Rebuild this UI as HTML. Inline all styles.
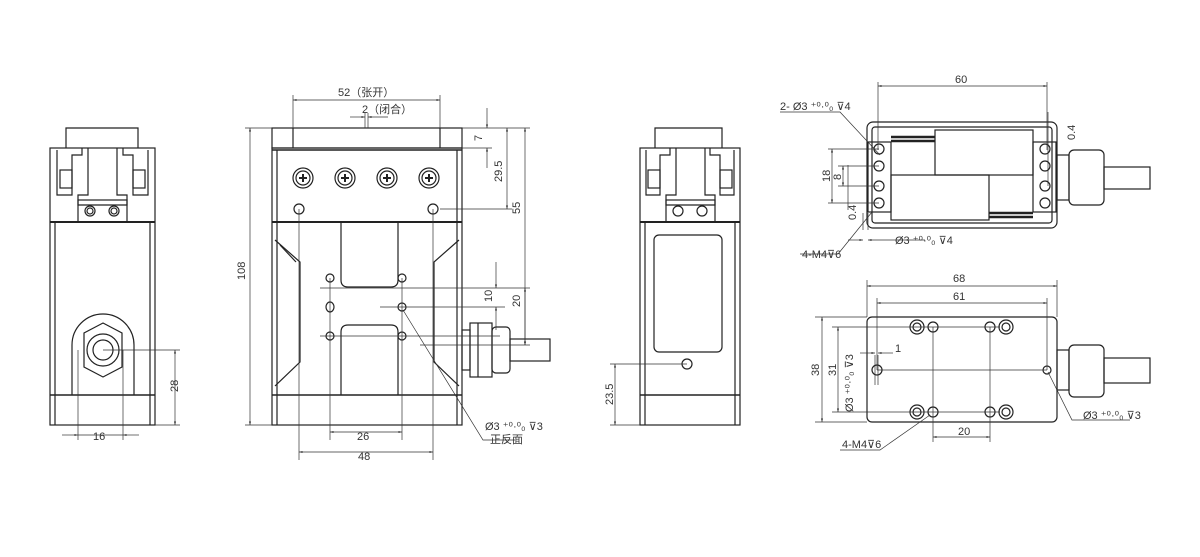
<!DOCTYPE html>
<html><head><meta charset="utf-8"><style>
html,body{margin:0;padding:0;background:#fff;}
svg{display:block;}
text{font-family:"Liberation Sans","Noto Sans CJK SC",sans-serif;font-size:11px;fill:#333;}
</style></head><body>
<svg width="1200" height="557" viewBox="0 0 1200 557" xmlns="http://www.w3.org/2000/svg">
<defs>
<marker id="a" viewBox="0 0 10 10" refX="10" refY="5" markerWidth="7" markerHeight="5" orient="auto-start-reverse"><path d="M0,2 L10,5 L0,8z" fill="#333"/></marker>
<g id="head">
<path d="M15,-23 V-10 H50 V-10 H85 V-23 Z" fill="none"/>
</g>
</defs>
<g stroke="#222" stroke-width="1.2" fill="none">
<!-- VIEW 1 -->
<rect x="50" y="148" width="105" height="277"/>
<line x1="50" y1="222" x2="155" y2="222" stroke-width="2"/>
<line x1="50" y1="395" x2="155" y2="395" stroke-width="1.6"/>
<line x1="55" y1="222" x2="55" y2="425"/><line x1="150" y1="222" x2="150" y2="425"/>
<path d="M66,148 V128 H138 V148"/>
<path d="M57,150 V195 H72 V155 H82 V148"/>
<path d="M148,150 V195 H133 V155 H123 V148"/>
<path d="M88,148 V195 H78 V205 H127 V195 H117 V148"/>
<rect x="60" y="170" width="12" height="18"/><rect x="133" y="170" width="12" height="18"/>
<rect x="78" y="200" width="49" height="22"/>
<circle cx="90" cy="211" r="5"/><circle cx="90" cy="211" r="3"/>
<circle cx="114" cy="211" r="5"/><circle cx="114" cy="211" r="3"/>
<path d="M72,395 V345 A31,31 0 0 1 134,345 V395"/>
<polygon points="103,323 122,333 122,367 103,377 84,367 84,333"/>
<circle cx="103" cy="350" r="16"/><circle cx="103" cy="350" r="10"/>
<!-- VIEW 2 -->
<rect x="272" y="148" width="190" height="277"/>
<rect x="272" y="128" width="190" height="20"/>
<line x1="293" y1="128" x2="293" y2="148"/><line x1="440" y1="128" x2="440" y2="148"/>
<line x1="272" y1="150" x2="462" y2="150" stroke-width="1.6"/>
<line x1="272" y1="222" x2="462" y2="222" stroke-width="2"/>
<line x1="272" y1="395" x2="462" y2="395" stroke-width="1.6"/>
<line x1="277" y1="150" x2="277" y2="425"/><line x1="457" y1="150" x2="457" y2="425"/>
<g>
<circle cx="303" cy="178" r="10"/><circle cx="303" cy="178" r="7"/>
<circle cx="345" cy="178" r="10"/><circle cx="345" cy="178" r="7"/>
<circle cx="387" cy="178" r="10"/><circle cx="387" cy="178" r="7"/>
<circle cx="429" cy="178" r="10"/><circle cx="429" cy="178" r="7"/>
</g>
<g stroke-width="2"><path d="M299,178h8M303,174v8M341,178h8M345,174v8M383,178h8M387,174v8M425,178h8M429,174v8"/></g>
<circle cx="299" cy="209" r="5"/><circle cx="433" cy="209" r="5"/>
<path d="M275,240 L300,262 V362 L275,386"/><path d="M459,240 L434,262 V362 L459,386"/>
<path d="M280,245 L296,262"/>
<path d="M341,222 V280 Q341,287 348,287 H391 Q398,287 398,280 V222"/>
<path d="M341,395 V332 Q341,325 348,325 H391 Q398,325 398,332 V395"/>
<circle cx="330" cy="278" r="4"/><circle cx="402" cy="278" r="4"/>
<ellipse cx="330" cy="307" rx="4" ry="5"/><circle cx="402" cy="307" r="4"/>
<circle cx="330" cy="336" r="4"/><circle cx="402" cy="336" r="4"/>
<rect x="462" y="330" width="8" height="40"/>
<rect x="470" y="323" width="22" height="54"/>
<line x1="478" y1="323" x2="478" y2="377"/>
<rect x="492" y="327" width="18" height="46" rx="4"/>
<rect x="510" y="339" width="40" height="22"/>
<!-- VIEW 3 -->
<rect x="640" y="148" width="100" height="277"/>
<line x1="640" y1="222" x2="740" y2="222" stroke-width="2"/>
<line x1="640" y1="395" x2="740" y2="395" stroke-width="1.6"/>
<line x1="645" y1="222" x2="645" y2="425"/><line x1="735" y1="222" x2="735" y2="425"/>
<path d="M655,148 V128 H722 V148"/>
<path d="M646,150 V195 H660 V155 H670 V148"/>
<path d="M734,150 V195 H720 V155 H710 V148"/>
<path d="M676,148 V195 H666 V205 H715 V195 H705 V148"/>
<rect x="648" y="170" width="12" height="18"/><rect x="720" y="170" width="12" height="18"/>
<rect x="666" y="200" width="49" height="22"/>
<circle cx="678" cy="211" r="5"/><circle cx="702" cy="211" r="5"/>
<rect x="654" y="235" width="68" height="117" rx="5"/>
<circle cx="687" cy="364" r="5"/>
<!-- VIEW 4 -->
<rect x="867" y="122" width="190" height="106" rx="6"/>
<rect x="872" y="127" width="180" height="96" rx="3"/>
<rect x="868" y="142" width="23" height="70"/><rect x="1033" y="142" width="23" height="70"/>
<rect x="935" y="130" width="98" height="45"/><rect x="891" y="175" width="98" height="45"/>
<path d="M891,137 H935 M891,141 H935 M989,213 H1033 M989,217 H1033" stroke-width="2.5"/>
<g><circle cx="879" cy="149" r="5"/><circle cx="879" cy="166" r="5"/><circle cx="879" cy="186" r="5"/><circle cx="879" cy="203" r="5"/>
<circle cx="1045" cy="149" r="5"/><circle cx="1045" cy="166" r="5"/><circle cx="1045" cy="186" r="5"/><circle cx="1045" cy="203" r="5"/></g>
<rect x="1057" y="155" width="12" height="45"/>
<rect x="1069" y="150" width="35" height="55" rx="5"/>
<rect x="1104" y="167" width="46" height="22"/>
<!-- VIEW 5 -->
<rect x="867" y="317" width="190" height="105" rx="5"/>
<circle cx="917" cy="327" r="7"/><circle cx="917" cy="327" r="4"/><circle cx="933" cy="327" r="5"/>
<circle cx="990" cy="327" r="5"/><circle cx="1006" cy="327" r="7"/><circle cx="1006" cy="327" r="4"/>
<circle cx="917" cy="412" r="7"/><circle cx="917" cy="412" r="4"/><circle cx="933" cy="412" r="5"/>
<circle cx="990" cy="412" r="5"/><circle cx="1006" cy="412" r="7"/><circle cx="1006" cy="412" r="4"/>
<circle cx="877" cy="370" r="5"/><circle cx="1047" cy="370" r="4"/>
<rect x="1057" y="350" width="12" height="40"/>
<rect x="1069" y="345" width="35" height="52" rx="5"/>
<rect x="1104" y="358" width="46" height="25"/>
</g>
<!-- dimensions -->
<g stroke="#333" stroke-width="0.7" fill="none">
<!-- view1 -->
<path d="M103,350 H180 M155,425 H180"/><line x1="175" y1="350" x2="175" y2="425" marker-start="url(#a)" marker-end="url(#a)"/>
<path d="M78,350 V440 M123,350 V440"/><line x1="62" y1="435" x2="78" y2="435" marker-end="url(#a)"/><line x1="139" y1="435" x2="123" y2="435" marker-end="url(#a)"/><line x1="78" y1="435" x2="123" y2="435"/>
<!-- view2 -->
<path d="M245,128 H272 M245,425 H272"/><line x1="250" y1="128" x2="250" y2="425" marker-start="url(#a)" marker-end="url(#a)"/>
<path d="M293,95 V128 M440,95 V128"/><line x1="293" y1="100" x2="440" y2="100" marker-start="url(#a)" marker-end="url(#a)"/>
<path d="M365,113 V128 M368,113 V128"/><line x1="350" y1="117" x2="365" y2="117" marker-end="url(#a)"/><line x1="388" y1="117" x2="368" y2="117" marker-end="url(#a)"/>
<path d="M462,128 H530 M462,148 H492 M440,209 H512 M420,345 H530"/>
<line x1="487" y1="108" x2="487" y2="128" marker-end="url(#a)"/><line x1="487" y1="168" x2="487" y2="148" marker-end="url(#a)"/>
<line x1="507" y1="128" x2="507" y2="209" marker-start="url(#a)" marker-end="url(#a)"/>
<line x1="525" y1="128" x2="525" y2="345" marker-start="url(#a)" marker-end="url(#a)"/>
<path d="M320,288 H530 M380,307 H505 M320,336 H500"/>
<line x1="525" y1="288" x2="525" y2="345" marker-start="url(#a)" marker-end="url(#a)"/>
<line x1="496" y1="262" x2="496" y2="288" marker-end="url(#a)"/><line x1="496" y1="330" x2="496" y2="307" marker-end="url(#a)"/>
<path d="M330,278 V440 M402,278 V440 M299,209 V460 M433,209 V460"/>
<line x1="330" y1="432" x2="402" y2="432" marker-start="url(#a)" marker-end="url(#a)"/>
<line x1="299" y1="452" x2="433" y2="452" marker-start="url(#a)" marker-end="url(#a)"/>
<path d="M403,310 L483,440 H515"/>
<!-- view3 -->
<path d="M610,364 H687 M610,425 H640"/><line x1="615" y1="364" x2="615" y2="425" marker-start="url(#a)" marker-end="url(#a)"/>
<!-- view4 -->
<path d="M878,82 V150 M1047,82 V150"/><line x1="878" y1="86" x2="1047" y2="86" marker-start="url(#a)" marker-end="url(#a)"/>
<path d="M780,112 H840 L880,155"/>
<path d="M828,149 H879 M838,166 H879 M838,186 H879 M828,203 H879"/>
<line x1="832" y1="149" x2="832" y2="203" marker-start="url(#a)" marker-end="url(#a)"/>
<line x1="843" y1="166" x2="843" y2="186" marker-start="url(#a)" marker-end="url(#a)"/>
<path d="M848,165 V210 M863,213 V230 M868,213 V230"/>
<line x1="848" y1="240" x2="863" y2="240" marker-end="url(#a)"/><line x1="885" y1="240" x2="868" y2="240" marker-end="url(#a)"/><line x1="885" y1="240" x2="925" y2="240"/>
<path d="M800,254 H838 L872,212"/>
<path d="M1048,120 V178"/><line x1="1048" y1="112" x2="1048" y2="120" /><line x1="1048" y1="186" x2="1048" y2="178"/>
<!-- view5 -->
<path d="M867,280 V317 M1057,280 V317 M877,298 V370 M1047,298 V370"/>
<line x1="867" y1="286" x2="1057" y2="286" marker-start="url(#a)" marker-end="url(#a)"/>
<line x1="877" y1="303" x2="1047" y2="303" marker-start="url(#a)" marker-end="url(#a)"/>
<path d="M815,317 H867 M815,422 H867 M832,327 H1000 M832,412 H1000"/>
<line x1="822" y1="317" x2="822" y2="422" marker-start="url(#a)" marker-end="url(#a)"/>
<line x1="838" y1="327" x2="838" y2="412" marker-start="url(#a)" marker-end="url(#a)"/>
<path d="M933,327 V442 M990,327 V442 M877,370 H1047"/>
<line x1="933" y1="437" x2="990" y2="437" marker-start="url(#a)" marker-end="url(#a)"/>
<path d="M875,355 V385 M878,355 V385"/><line x1="860" y1="353" x2="875" y2="353" marker-end="url(#a)"/><line x1="893" y1="353" x2="878" y2="353" marker-end="url(#a)"/>
<path d="M1048,372 L1072,420 H1130"/>
<path d="M840,450 H880 L930,415"/>
</g>
<!-- labels -->
<text x="338" y="96">52（张开）</text>
<text x="362" y="113">2（闭合）</text>
<text transform="translate(482,141) rotate(-90)">7</text>
<text transform="translate(502,182) rotate(-90)">29.5</text>
<text transform="translate(520,214) rotate(-90)">55</text>
<text transform="translate(245,280) rotate(-90)">108</text>
<text transform="translate(492,302) rotate(-90)">10</text>
<text transform="translate(520,307) rotate(-90)">20</text>
<text x="357" y="440">26</text>
<text x="358" y="460">48</text>
<text x="485" y="430">Ø3 ⁺⁰·⁰₀ ⊽3</text>
<text x="490" y="443">正反面</text>
<text x="93" y="440">16</text>
<text transform="translate(178,392) rotate(-90)">28</text>
<text transform="translate(613,405) rotate(-90)">23.5</text>
<text x="955" y="83">60</text>
<text x="780" y="110">2- Ø3 ⁺⁰·⁰₀ ⊽4</text>
<text transform="translate(830,182) rotate(-90)">18</text>
<text transform="translate(841,180) rotate(-90)">8</text>
<text transform="translate(856,220) rotate(-90)">0.4</text>
<text transform="translate(1075,140) rotate(-90)">0.4</text>
<text x="895" y="244">Ø3 ⁺⁰·⁰₀ ⊽4</text>
<text x="802" y="258">4-M4⊽6</text>
<text x="953" y="282">68</text>
<text x="953" y="300">61</text>
<text x="895" y="352">1</text>
<text transform="translate(819,376) rotate(-90)">38</text>
<text transform="translate(836,376) rotate(-90)">31</text>
<text transform="translate(853,412) rotate(-90)">Ø3 ⁺⁰·⁰₀ ⊽3</text>
<text x="958" y="435">20</text>
<text x="1083" y="419">Ø3 ⁺⁰·⁰₀ ⊽3</text>
<text x="842" y="448">4-M4⊽6</text>
</svg>
</body></html>
